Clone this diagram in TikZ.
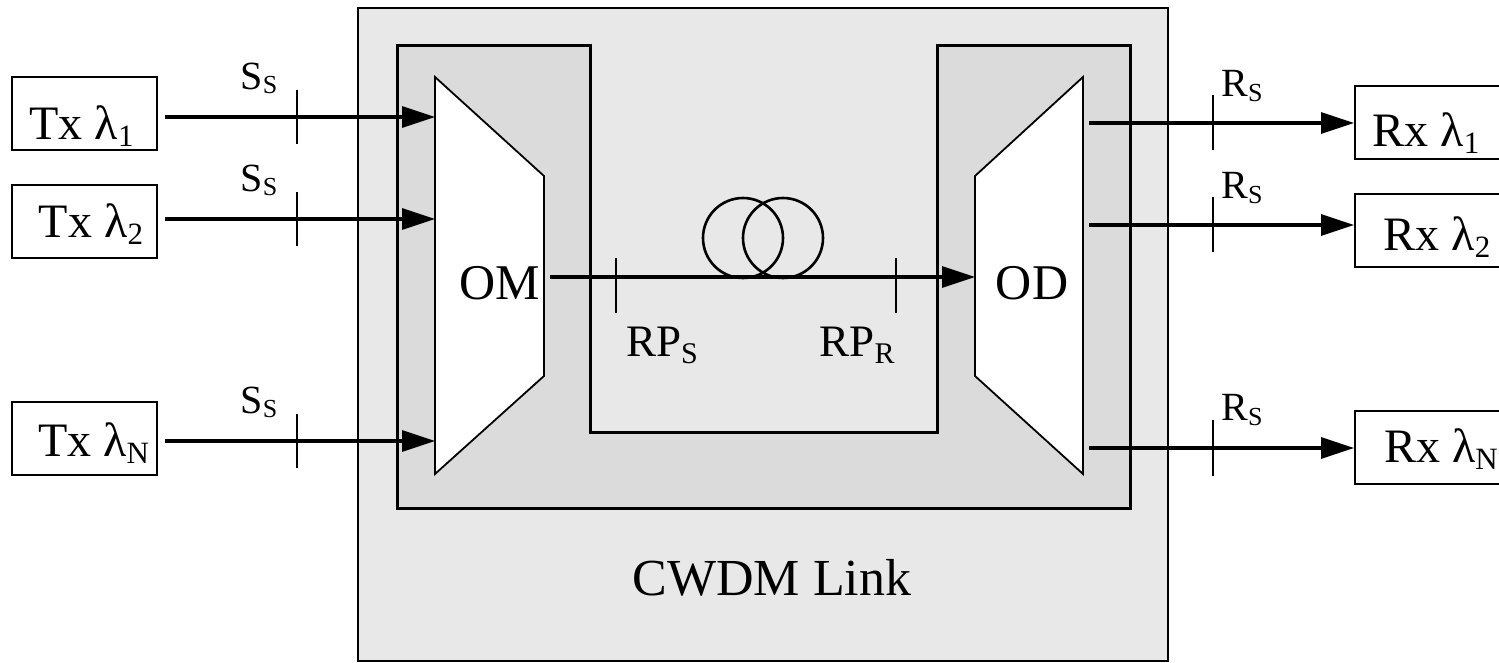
\documentclass[tikz,border=0pt]{standalone}
\usepackage{fontspec}
\setmainfont{Liberation Serif}
\usetikzlibrary{arrows.meta}
\definecolor{outerg}{gray}{0.91}
\definecolor{innerg}{gray}{0.86}
\newcommand{\lbl}[5]{{\fontsize{#1}{#1}\selectfont #3}\raisebox{-#5}{\fontsize{#2}{#2}\selectfont #4}}
\begin{document}
\begin{tikzpicture}[x=0.5pt,y=-0.5pt,
  box/.style={draw,line width=1pt,fill=white,minimum width=72.5pt,minimum height=36.5pt,inner sep=0pt},
  rbox/.style={draw,line width=1pt,fill=white,minimum width=77.5pt,minimum height=36.5pt,inner sep=0pt},
  sig/.style={line width=1.6pt,-{Triangle[length=16.5pt,width=10.5pt]}},
  tickmark/.style={line width=0.9pt},
  lab/.style={inner sep=0pt},
  mux/.style={draw,fill=white,line width=0.9pt}]
\useasboundingbox (0,0) rectangle (1499,663);
\begin{scope}
\clip (0,0) rectangle (1499,663);
% outer CWDM link box
\draw[fill=outerg,line width=1.1pt] (358,8) rectangle (1168,661);
% inner U-shaped region
\draw[fill=innerg,line width=1.5pt] (397,46) -- (590,46) -- (590,432) -- (937,432) -- (937,46) -- (1130,46) -- (1130,508) -- (397,508) -- cycle;
% OM and OD trapezoids
\draw[mux] (435,77) -- (544,176) -- (544,376) -- (435,474) -- cycle;
\draw[mux] (1083,77) -- (1083,474) -- (975,376) -- (975,176) -- cycle;
\node[lab] (om) at (500,283) {\fontsize{25pt}{25pt}\selectfont OM};
\node[lab] (od) at (1032,283) {\fontsize{25pt}{25pt}\selectfont OD};
\node[lab] (link) at (772,578) {\fontsize{26pt}{26pt}\selectfont CWDM Link};
% coordinates on mux edges
\coordinate (omin1) at (435,117);
\coordinate (omin2) at (435,219);
\coordinate (ominN) at (435,441);
\coordinate (omout) at (550,277);
\coordinate (odin) at (975,277);
\coordinate (odout1) at (1089,123);
\coordinate (odout2) at (1089,225);
\coordinate (odoutN) at (1089,448);
% Tx boxes
\node[box] (tx1) at (84.5,113.5) {};
\node[box] (tx2) at (84.5,222) {};
\node[box] (txN) at (84.5,438.5) {};
\node[lab] (tx1t) at (81.5,126.5) {\lbl{24pt}{15.5pt}{Tx λ}{1}{3.5pt}};
\node[lab] (tx2t) at (91,224.5) {\lbl{24pt}{15.5pt}{Tx λ}{2}{3.5pt}};
\node[lab] (txNt) at (93.5,443) {\lbl{24pt}{15.5pt}{Tx λ}{N}{3.5pt}};
% Rx boxes
\node[rbox] (rx1) at (1432.5,122.5) {};
\node[rbox] (rx2) at (1432.5,231) {};
\node[rbox] (rxN) at (1432.5,447.5) {};
\node[lab] (rx1t) at (1426,133.5) {\lbl{24pt}{15.5pt}{Rx λ}{1}{3.5pt}};
\node[lab] (rx2t) at (1437,237) {\lbl{24pt}{15.5pt}{Rx λ}{2}{3.5pt}};
\node[lab] (rxNt) at (1441,449) {\lbl{24pt}{15.5pt}{Rx λ}{N}{3.5pt}};
% input arrows
\draw[sig,shorten <=3.5pt] (tx1.east |- omin1) -- (omin1);
\draw[sig,shorten <=3.5pt] (tx2.east |- omin2) -- (omin2);
\draw[sig,shorten <=3.5pt] (txN.east |- ominN) -- (ominN);
\draw[tickmark] (297,90) -- (297,144);
\draw[tickmark] (297,192) -- (297,246);
\draw[tickmark] (297,414) -- (297,468);
\node[lab] (ss1) at (259,78) {\lbl{20pt}{13pt}{S}{S}{2pt}};
\node[lab] (ss2) at (259,180) {\lbl{20pt}{13pt}{S}{S}{2pt}};
\node[lab] (ssN) at (259,402) {\lbl{20pt}{13pt}{S}{S}{2pt}};
% output arrows
\draw[sig] (odout1) -- (rx1.west |- odout1);
\draw[sig] (odout2) -- (rx2.west |- odout2);
\draw[sig] (odoutN) -- (rxN.west |- odoutN);
\draw[tickmark] (1213,95) -- (1213,150);
\draw[tickmark] (1213,197) -- (1213,252);
\draw[tickmark] (1213,420) -- (1213,476);
\node[lab] (rs1) at (1242,86) {\lbl{20pt}{13pt}{R}{S}{2.5pt}};
\node[lab] (rs2) at (1242,188) {\lbl{20pt}{13pt}{R}{S}{2.5pt}};
\node[lab] (rsN) at (1242,410) {\lbl{20pt}{13pt}{R}{S}{2.5pt}};
% fibre link
\draw[line width=1.3pt] (743,238) circle[radius=20pt];
\draw[line width=1.3pt] (783,238) circle[radius=20pt];
\draw[sig] (omout) -- (odin);
\draw[tickmark] (616,258) -- (616,313);
\draw[tickmark] (896,258) -- (896,313);
\node[lab] (rps) at (662,345) {\lbl{22.5pt}{15pt}{RP}{S}{3.5pt}};
\node[lab] (rpr) at (857,345) {\lbl{22.5pt}{15pt}{RP}{R}{3.5pt}};
\end{scope}
\end{tikzpicture}
\end{document}
